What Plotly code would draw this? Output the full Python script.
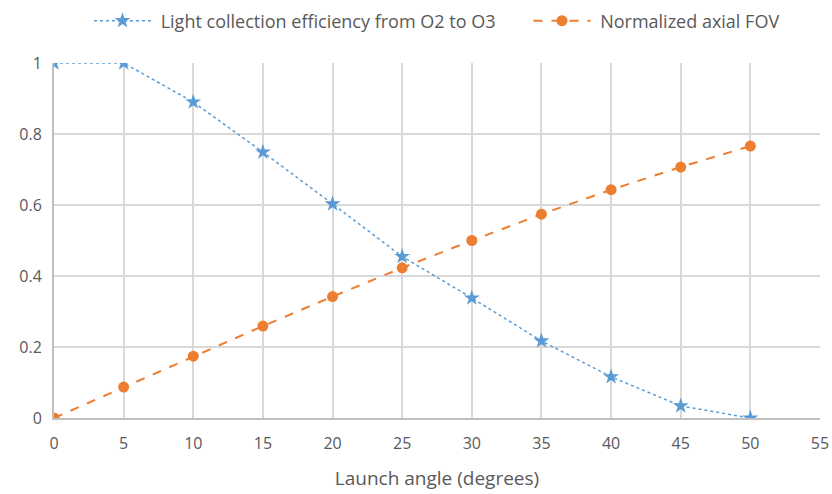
import plotly.graph_objects as go

angles = [0, 5, 10, 15, 20, 25, 30, 35, 40, 45, 50]
efficiency = [1.0, 1.0, 0.89, 0.749, 0.603, 0.455, 0.338, 0.217, 0.116, 0.034, 0.0]
axial_fov = [0.0, 0.087, 0.174, 0.259, 0.342, 0.423, 0.5, 0.574, 0.643, 0.707, 0.766]
x_ticks = [0, 5, 10, 15, 20, 25, 30, 35, 40, 45, 50, 55]
y_ticks = [0, 0.2, 0.4, 0.6, 0.8, 1]
y_tick_text = ["0", "0.2", "0.4", "0.6", "0.8", "1"]

blue = "#5B9BD5"
orange = "#ED7D31"
grid = "#D9D9D9"
text_col = "#595959"

fig = go.Figure()
fig.add_trace(go.Scatter(
    x=angles, y=efficiency, mode="lines+markers",
    name="\u00a0Light collection efficiency from O2 to O3" + "\u00a0" * 6,
    line=dict(color=blue, width=1.5, dash="dot"),
    marker=dict(symbol="star", size=12, color=blue),
))
fig.add_trace(go.Scatter(
    x=angles, y=axial_fov, mode="lines+markers",
    name="\u00a0Normalized axial FOV",
    line=dict(color=orange, width=2, dash="dash"),
    marker=dict(symbol="circle", size=11, color=orange),
))

font = dict(family="Open Sans, Liberation Sans, sans-serif", size=15, color=text_col)
fig.update_layout(
    width=832, height=494,
    margin=dict(l=54, r=12, t=63, b=76, autoexpand=False),
    paper_bgcolor="white", plot_bgcolor="white",
    font=font,
    showlegend=True,
    legend=dict(orientation="h", x=0.5, xanchor="center", y=0.995, yanchor="top",
                yref="container", font=dict(size=18, color=text_col),
                itemwidth=57),
    xaxis=dict(range=[0, 55], tickvals=x_ticks, showgrid=True, gridcolor=grid, gridwidth=2,
               zeroline=False, showline=True, linecolor="#BFBFBF", linewidth=2,
               ticks="", ticklabelstandoff=10, automargin=False,
               tickfont=dict(size=16),
               title=dict(text="Launch angle (degrees)", font=dict(size=19, color=text_col), standoff=18)),
    yaxis=dict(range=[0, 1], tickvals=y_ticks, ticktext=y_tick_text, showgrid=True, gridcolor=grid,
               gridwidth=2, zeroline=False, showline=True, linecolor="#BFBFBF", linewidth=2,
               ticks="outside", ticklen=7, tickcolor="rgba(0,0,0,0)", automargin=False,
               tickfont=dict(size=16)),
)
fig.write_html("out.html")
